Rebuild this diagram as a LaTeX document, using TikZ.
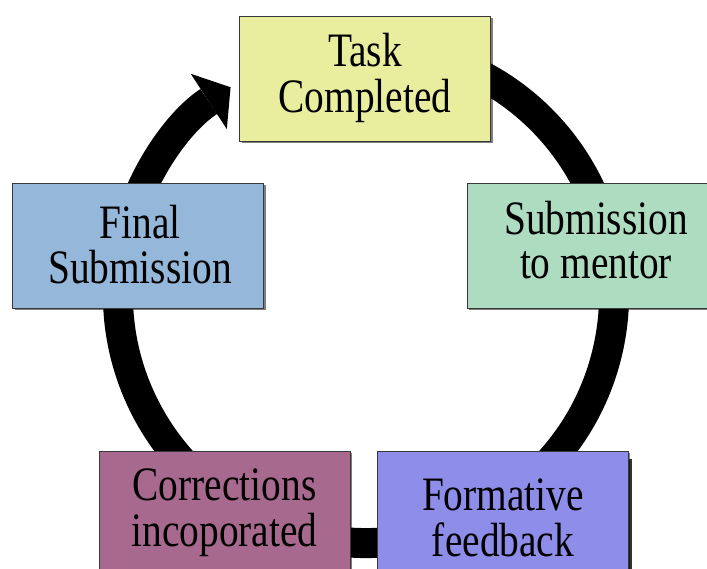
\documentclass[tikz,border=0pt]{standalone}
\usepackage{fontspec}
\setmainfont{Liberation Serif}
\usetikzlibrary{arrows.meta,shadows}
\newcommand\mystrut{\rule[-11pt]{0pt}{44pt}}
\newcommand\sq[1]{\scalebox{0.82}[1]{#1}}
\definecolor{taskfill}{HTML}{E9EE9E}
\definecolor{finalfill}{HTML}{94B7DA}
\definecolor{mentorfill}{HTML}{ADDCC1}
\definecolor{corrfill}{HTML}{A8698E}
\definecolor{formfill}{HTML}{8E8EEA}
\begin{document}
\begin{tikzpicture}[x=1pt,y=-1pt,
  box/.style={draw=black!78, line width=0.8pt, minimum width=251pt, minimum height=125pt, inner sep=0pt,
    drop shadow={shadow xshift=2pt, shadow yshift=-2pt, fill=black, opacity=0.5}},
  lbl/.style={align=center, inner sep=0pt, font=\fontsize{48}{44}\selectfont, text=black},
  ring/.style={line width=30pt, draw=black}]
\useasboundingbox (0,0) rectangle (707,569);
\clip (0,0) rectangle (707,569);
\fill[white] (0,0) rectangle (707,569);
\coordinate (hub) at (366,295);
\draw[ring, -{Triangle[width=66pt,length=26pt,line width=0pt]}] ([shift={(-75:248)}]hub) arc[start angle=-75, end angle=236.9, radius=248];
% boxes
\node[box, fill=taskfill] (task) at (365,79) {};
\node[box, fill=finalfill] (final) at (138,245.8) {};
\node[box, fill=mentorfill] (mentor) at (592.5,245.5) {};
\node[box, fill=corrfill] (corr) at (224.5,513.5) {};
\node[box, fill=formfill, drop shadow={shadow xshift=4pt, shadow yshift=-8pt, fill=black, opacity=0.8}] (form) at (502.5,513.5) {};
% labels
\node[lbl] (taskt) at (365,78.2) {\mystrut\sq{Task}\\\mystrut\sq{Completed}};
\node[lbl] (finalt) at (140,249.8) {\mystrut\sq{Final}\\\mystrut\sq{Submission}};
\node[lbl] (mentort) at (596,245.8) {\mystrut\sq{Submission}\\\mystrut\sq{to mentor}};
\node[lbl] (corrt) at (224.5,512.5) {\mystrut\sq{Corrections}\\\mystrut\sq{incoporated}};
\node[lbl] (formt) at (503,522.5) {\mystrut\sq{Formative}\\\mystrut\sq{feedback}};
\end{tikzpicture}
\end{document}
